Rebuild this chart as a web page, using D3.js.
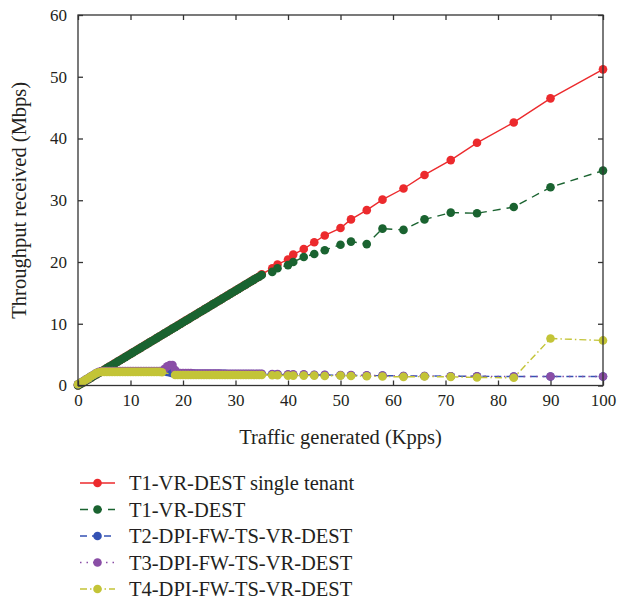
<!DOCTYPE html>
<html lang="en">
<head>
<meta charset="utf-8">
<script src="https://d3js.org/d3.v7.min.js"></script>
<style type="text/css">
body {
	margin: 0;
	background: #fff;
}
text {
	font-family: "Liberation Serif", "DejaVu Serif", serif;
	fill: #231f20;
}
</style>
</head>
<body>
<script type="text/javascript">

// size of the page
var width = 629;
var height = 601;

// plot box (names avoid window.top)
var boxLeft = 78, boxRight = 603, boxTop = 15, boxBottom = 385.5;

// x values: dense part 0..35 Kpps, sparse part after that
var xDense = [0, 0.5, 1, 1.5, 2, 2.5, 3, 3.5, 4, 4.5, 5, 5.5, 6, 6.5, 7, 7.5, 8, 8.5, 9, 9.5,
  10, 10.5, 11, 11.5, 12, 12.5, 13, 13.5, 14, 14.5, 15, 15.5, 16, 16.5, 17, 17.5, 18, 18.5, 19, 19.5,
  20, 20.5, 21, 21.5, 22, 22.5, 23, 23.5, 24, 24.5, 25, 25.5, 26, 26.5, 27, 27.5, 28, 28.5, 29, 29.5,
  30, 30.5, 31, 31.5, 32, 32.5, 33, 33.5, 34, 34.5, 35];
var xSparse = [37, 38, 40, 41, 43, 45, 47, 50, 52, 55, 58, 62, 66, 71, 76, 83, 90, 100];

// T1-VR-DEST single tenant
var t1SingleDense = [0, 0.26, 0.51, 0.77, 1.02, 1.28, 1.54, 1.79, 2.05, 2.3, 2.56, 2.82, 3.07, 3.33, 3.58, 3.84, 4.1, 4.35, 4.61, 4.86,
  5.12, 5.38, 5.63, 5.89, 6.14, 6.4, 6.66, 6.91, 7.17, 7.42, 7.68, 7.94, 8.19, 8.45, 8.7, 8.96, 9.22, 9.47, 9.73, 9.98,
  10.24, 10.5, 10.75, 11.01, 11.26, 11.52, 11.78, 12.03, 12.29, 12.54, 12.8, 13.06, 13.31, 13.57, 13.82, 14.08, 14.34, 14.59, 14.85, 15.1,
  15.36, 15.62, 15.87, 16.13, 16.38, 16.64, 16.9, 17.15, 17.41, 17.66, 18.0];
var t1SingleSparse = [19.0, 19.6, 20.4, 21.2, 22.1, 23.2, 24.3, 25.5, 26.9, 28.4, 30.1, 31.9, 34.1, 36.5, 39.3, 42.6, 46.5, 51.2];

// T1-VR-DEST
var t1Dense = [0, 0.25, 0.5, 0.76, 1.01, 1.27, 1.53, 1.78, 2.04, 2.29, 2.55, 2.81, 3.06, 3.32, 3.57, 3.83, 4.09, 4.34, 4.6, 4.85,
  5.11, 5.37, 5.62, 5.88, 6.13, 6.39, 6.65, 6.9, 7.16, 7.41, 7.67, 7.93, 8.18, 8.44, 8.69, 8.95, 9.21, 9.46, 9.72, 9.97,
  10.23, 10.49, 10.74, 11.0, 11.25, 11.51, 11.77, 12.02, 12.28, 12.53, 12.79, 13.05, 13.3, 13.56, 13.81, 14.07, 14.33, 14.58, 14.84, 15.09,
  15.35, 15.61, 15.86, 16.12, 16.37, 16.63, 16.89, 17.14, 17.4, 17.62, 17.9];
var t1Sparse = [18.4, 19.0, 19.5, 20.0, 20.8, 21.3, 21.9, 22.8, 23.3, 22.9, 25.4, 25.2, 26.9, 28.0, 27.9, 28.9, 32.1, 34.8];

// T2-DPI-FW-TS-VR-DEST
var t2Dense = [0.2, 0.45, 0.7, 0.95, 1.2, 1.5, 1.75, 2.0, 2.15, 2.25, 2.3, 2.3, 2.3, 2.3, 2.3, 2.3, 2.3, 2.3, 2.3, 2.3,
  2.3, 2.3, 2.3, 2.3, 2.3, 2.3, 2.3, 2.3, 2.3, 2.3, 2.3, 2.3, 2.3, 2.3, 2.2, 2.1, 2.0, 2.0, 1.95, 1.95,
  1.95, 1.95, 1.95, 1.95, 1.95, 1.9, 1.9, 1.9, 1.9, 1.9, 1.9, 1.9, 1.9, 1.9, 1.9, 1.9, 1.9, 1.85, 1.85, 1.85,
  1.85, 1.85, 1.85, 1.85, 1.85, 1.85, 1.85, 1.85, 1.85, 1.85, 1.85];
var t2Sparse = [1.8, 1.8, 1.75, 1.75, 1.75, 1.7, 1.7, 1.65, 1.65, 1.6, 1.6, 1.55, 1.55, 1.5, 1.5, 1.45, 1.45, 1.45];

// T3-DPI-FW-TS-VR-DEST
var t3Dense = [0.2, 0.45, 0.7, 0.95, 1.2, 1.5, 1.75, 2.0, 2.2, 2.3, 2.35, 2.35, 2.35, 2.35, 2.35, 2.35, 2.35, 2.35, 2.35, 2.35,
  2.35, 2.35, 2.35, 2.35, 2.35, 2.35, 2.35, 2.35, 2.35, 2.35, 2.35, 2.35, 2.4, 2.7, 3.1, 3.3, 3.3, 2.5, 2.05, 2.0,
  2.0, 2.0, 2.0, 2.0, 1.95, 1.95, 1.95, 1.95, 1.95, 1.95, 1.95, 1.95, 1.95, 1.95, 1.95, 1.9, 1.9, 1.9, 1.9, 1.9,
  1.9, 1.9, 1.9, 1.9, 1.9, 1.9, 1.9, 1.9, 1.9, 1.9, 1.9];
var t3Sparse = [1.85, 1.85, 1.8, 1.8, 1.8, 1.75, 1.75, 1.7, 1.7, 1.65, 1.6, 1.55, 1.55, 1.5, 1.5, 1.45, 1.45, 1.45];

// T4-DPI-FW-TS-VR-DEST (no samples seen under the T3 bump)
var t4Dense = [0.2, 0.45, 0.7, 0.95, 1.2, 1.5, 1.75, 2.0, 2.15, 2.2, 2.2, 2.2, 2.2, 2.2, 2.2, 2.2, 2.2, 2.2, 2.2, 2.2,
  2.2, 2.2, 2.2, 2.2, 2.2, 2.2, 2.2, 2.2, 2.2, 2.2, 2.2, 2.2, 2.15, null, null, null, null, 1.7, 1.7, 1.7,
  1.7, 1.7, 1.7, 1.7, 1.7, 1.7, 1.7, 1.7, 1.7, 1.7, 1.7, 1.7, 1.7, 1.7, 1.7, 1.7, 1.7, 1.7, 1.7, 1.7,
  1.7, 1.7, 1.7, 1.7, 1.7, 1.7, 1.7, 1.7, 1.7, 1.7, 1.7];
var t4Sparse = [1.65, 1.65, 1.6, 1.6, 1.6, 1.6, 1.55, 1.6, 1.55, 1.5, 1.45, 1.4, 1.45, 1.4, 1.3, 1.25, 7.6, 7.3];

var xTicks = [0, 10, 20, 30, 40, 50, 60, 70, 80, 90, 100];
var yTicks = [0, 10, 20, 30, 40, 50, 60];

var seriesNames = ["T1-VR-DEST single tenant", "T1-VR-DEST", "T2-DPI-FW-TS-VR-DEST",
                   "T3-DPI-FW-TS-VR-DEST", "T4-DPI-FW-TS-VR-DEST"];
var seriesColors = ["#ec2a2d", "#1a6330", "#3452b4", "#8a4ea6", "#c3c437"];
var seriesDash = ["none", "8,6", "7,5", "1.5,5", "7,3,1.5,3"];
var seriesDense = [t1SingleDense, t1Dense, t2Dense, t3Dense, t4Dense];
var seriesSparse = [t1SingleSparse, t1Sparse, t2Sparse, t3Sparse, t4Sparse];

var x = d3.scaleLinear().domain([0, 100]).range([boxLeft, boxRight]);
var y = d3.scaleLinear().domain([0, 60]).range([boxBottom, boxTop]);

var svg = d3.select("body")
  .append("svg")
  .attr("width", width)
  .attr("height", height);

// build point lists for every series
var series = seriesNames.map(function(name, i) {
  var pts = [];
  xDense.forEach(function(xv, j) {
    if (seriesDense[i][j] != null) pts.push([xv, seriesDense[i][j]]);
  });
  xSparse.forEach(function(xv, j) {
    pts.push([xv, seriesSparse[i][j]]);
  });
  return {name: name, color: seriesColors[i], dash: seriesDash[i], points: pts};
});

var line = d3.line()
  .x(function(d) { return x(d[0]); })
  .y(function(d) { return y(d[1]); });

var g = svg.selectAll("g.series")
  .data(series)
  .enter()
  .append("g")
  .attr("class", "series");

g.append("path")
  .attr("d", function(d) { return line(d.points); })
  .style("fill", "none")
  .style("stroke", function(d) { return d.color; })
  .style("stroke-width", 1.4)
  .style("stroke-dasharray", function(d) { return d.dash; });

g.selectAll("circle")
  .data(function(d) { return d.points.map(function(p) { return {p: p, color: d.color}; }); })
  .enter()
  .append("circle")
  .attr("cx", function(d) { return x(d.p[0]); })
  .attr("cy", function(d) { return y(d.p[1]); })
  .attr("r", 4.3)
  .style("fill", function(d) { return d.color; });

// axes: inward ticks on all four sides
var axisColor = "#333";
svg.append("g")
  .attr("transform", "translate(0," + boxBottom + ")")
  .call(d3.axisBottom(x).tickValues(xTicks).tickSize(-5).tickPadding(8).tickSizeOuter(0));
svg.append("g")
  .attr("transform", "translate(0," + boxTop + ")")
  .call(d3.axisTop(x).tickValues(xTicks).tickSize(-5).tickSizeOuter(0).tickFormat(""));
svg.append("g")
  .attr("transform", "translate(" + boxLeft + ",0)")
  .call(d3.axisLeft(y).tickValues(yTicks).tickSize(-5).tickPadding(11).tickSizeOuter(0));
svg.append("g")
  .attr("transform", "translate(" + boxRight + ",0)")
  .call(d3.axisRight(y).tickValues(yTicks).tickSize(-5).tickSizeOuter(0).tickFormat(""));

svg.selectAll(".domain").remove();
svg.selectAll(".tick line").style("stroke", axisColor).style("stroke-width", 1.3);
svg.selectAll(".tick text")
  .style("font-family", "'Liberation Serif', serif")
  .style("font-size", "17px")
  .style("fill", "#231f20");

svg.append("rect")
  .attr("x", boxLeft)
  .attr("y", boxTop)
  .attr("width", boxRight - boxLeft)
  .attr("height", boxBottom - boxTop)
  .style("fill", "none")
  .style("stroke", axisColor)
  .style("stroke-width", 1.3);

// axis titles
svg.append("text")
  .attr("x", (boxLeft + boxRight) / 2)
  .attr("y", 444)
  .attr("text-anchor", "middle")
  .style("font-size", "20.5px")
  .text("Traffic generated (Kpps)");

svg.append("text")
  .attr("transform", "translate(26," + ((boxTop + boxBottom) / 2) + ") rotate(-90)")
  .attr("text-anchor", "middle")
  .style("font-size", "20.5px")
  .text("Throughput received (Mbps)");

// legend
var legend = svg.selectAll("g.legend")
  .data(series)
  .enter()
  .append("g")
  .attr("class", "legend")
  .attr("transform", function(d, i) { return "translate(80," + (483 + i * 26.5) + ")"; });

legend.append("line")
  .attr("x1", 0)
  .attr("x2", 35)
  .style("stroke", function(d) { return d.color; })
  .style("stroke-width", 1.4)
  .style("stroke-dasharray", function(d) { return d.dash; });

legend.append("circle")
  .attr("cx", 17.5)
  .attr("r", 4.3)
  .style("fill", function(d) { return d.color; });

legend.append("text")
  .attr("x", 49)
  .attr("dy", "0.35em")
  .style("font-size", "20.5px")
  .text(function(d) { return d.name; });

</script>
</body>
</html>
